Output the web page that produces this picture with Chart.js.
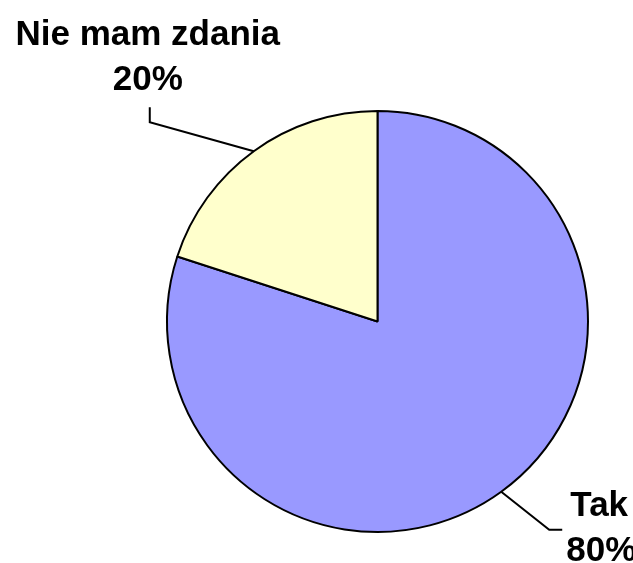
<!DOCTYPE html>
<html>
<head>
<meta charset="utf-8">
<script src="https://cdn.jsdelivr.net/npm/chart.js@4/dist/chart.umd.min.js"></script>
<style>
    html, body { margin: 0; padding: 0; background: #ffffff; }
    #wrap { width: 633px; height: 563px; }
</style>
</head>
<body>
<div id="wrap"><canvas id="pie-chart" width="633" height="563"></canvas></div>
<script>
// Odpowiedzi (procent)
const labels = ['Tak', 'Nie mam zdania'];
const values = [80, 20];
const colors = ['#9999ff', '#ffffcc'];

// leader line + label placement relative to the slice edge midpoint
const leaders = [
    { elbow: [48, 38], end: [13, 0], name: [37, -14], pct: [39, 31] },
    { elbow: [-104, -29], end: [0, -15], name: [-2, -62], pct: [-2, -17] }
];

const pieLabels = {
    id: 'pieLabels',
    afterDatasetsDraw(chart) {
        const ctx = chart.ctx;
        const meta = chart.getDatasetMeta(0);
        const total = values.reduce((a, b) => a + b, 0);
        ctx.save();
        meta.data.forEach((arc, i) => {
            const p = arc.getProps(['x', 'y', 'outerRadius', 'startAngle', 'endAngle'], true);
            const mid = (p.startAngle + p.endAngle) / 2;
            const ex = p.x + p.outerRadius * Math.cos(mid);
            const ey = p.y + p.outerRadius * Math.sin(mid);
            const l = leaders[i];
            const bx = ex + l.elbow[0], by = ey + l.elbow[1];
            const tx = bx + l.end[0], ty = by + l.end[1];

            ctx.strokeStyle = '#000000';
            ctx.lineWidth = 2;
            ctx.beginPath();
            ctx.moveTo(ex, ey);
            ctx.lineTo(bx, by);
            ctx.lineTo(tx, ty);
            ctx.stroke();

            ctx.fillStyle = '#000000';
            ctx.font = 'bold 35px "Liberation Sans", Arial, sans-serif';
            ctx.textAlign = 'center';
            ctx.textBaseline = 'alphabetic';
            ctx.fillText(labels[i], tx + l.name[0], ty + l.name[1]);
            const pct = Math.round(values[i] / total * 100) + '%';
            ctx.fillText(pct, tx + l.pct[0], ty + l.pct[1]);
        });
        ctx.restore();
    }
};

const ctx = document.getElementById('pie-chart').getContext('2d');
const pieChart = new Chart(ctx, {
    type: 'pie',
    data: {
        labels: labels,
        datasets: [{
            data: values,
            backgroundColor: colors,
            borderColor: '#000000',
            borderWidth: 2
        }]
    },
    options: {
        responsive: false,
        animation: false,
        layout: {
            padding: { top: 110, bottom: 30, left: 166, right: 44 }
        },
        plugins: {
            legend: { display: false },
            tooltip: { enabled: false }
        }
    },
    plugins: [pieLabels]
});
</script>
</body>
</html>
